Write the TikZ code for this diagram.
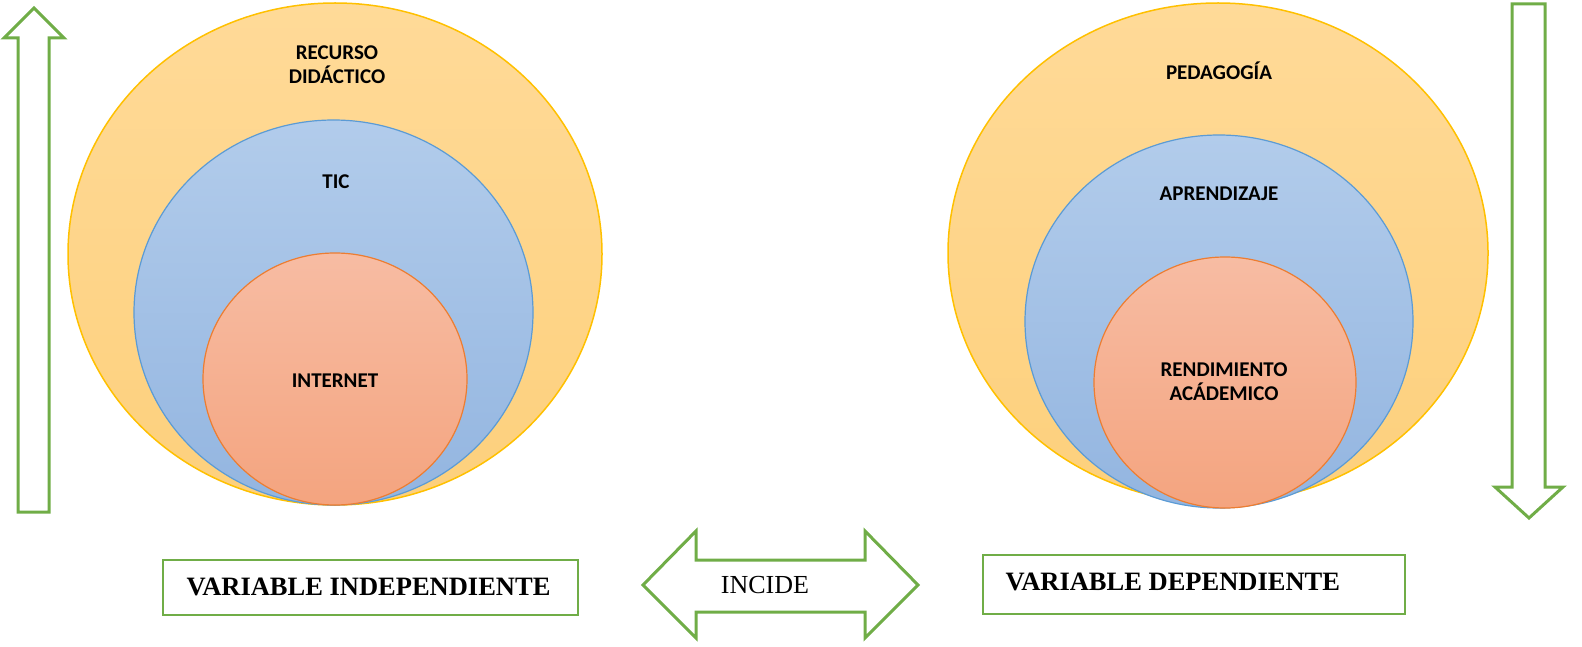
\documentclass[tikz,border=0pt]{standalone}
\usepackage{fontspec}
\setmainfont{Liberation Serif}
\newfontfamily\calfont{Carlito}
\usepackage[]{tikz}
\usetikzlibrary{positioning}
\definecolor{goldline}{HTML}{FFC000}
\definecolor{goldtop}{HTML}{FFDA98}
\definecolor{goldbot}{HTML}{FDD07C}
\definecolor{blueline}{HTML}{5B9BD5}
\definecolor{bluetop}{HTML}{B2CCEB}
\definecolor{bluebot}{HTML}{93B5E0}
\definecolor{redline}{HTML}{ED7D31}
\definecolor{redtop}{HTML}{F7BCA3}
\definecolor{redbot}{HTML}{F4A47F}
\definecolor{arrowgreen}{HTML}{70AD47}
\tikzset{outerring/.style = {draw=goldline, line width=1.5, top color=goldtop, bottom color=goldbot},
         midring/.style = {draw=blueline, line width=1.2, top color=bluetop, bottom color=bluebot},
         innerring/.style = {draw=redline, line width=1.2, top color=redtop, bottom color=redbot},
         ringlabel/.style = {font=\calfont\bfseries\fontsize{21}{24}\selectfont, align=center, inner sep=0},
         greenarrow/.style = {draw=arrowgreen, line width=3, line join=miter, fill=white},
         varbox/.style = {draw=arrowgreen, line width=2.5, fill=white}}

\begin{document}
\begin{tikzpicture}[x=1pt, y=-1pt]
            \useasboundingbox (0,0) rectangle (1582,647);
            % left side
            \draw [outerring] (335,254) ellipse (267pt and 251pt);
            \draw [midring] (333.5,312.5) ellipse (199.5pt and 192.5pt);
            \draw [innerring] (335,379) ellipse (132pt and 126pt);
            \node [ringlabel] (recurso) at (337,65) {RECURSO\\DIDÁCTICO};
            \node [ringlabel] (tic) at (336,182) {TIC};
            \node [ringlabel] (internet) at (335,381) {INTERNET};
            % right side
            \draw [outerring] (1218,253) ellipse (270pt and 250pt);
            \draw [midring] (1219,321.5) ellipse (194pt and 186.5pt);
            \draw [innerring] (1225,382.5) ellipse (131pt and 125.5pt);
            \node [ringlabel] (pedagogia) at (1219,71) {PEDAGOGÍA};
            \node [ringlabel] (aprendizaje) at (1219,194) {APRENDIZAJE};
            \node [ringlabel] (rendimiento) at (1224,382) {RENDIMIENTO\\ACÁDEMICO};
            % arrows
            \draw [greenarrow] (18,512)--(18,38)--(4,38)--(34,8)--(64,38)--(49,38)--(49,512)--cycle;
            \draw [greenarrow] (1512,4)--(1512,487)--(1495,487)--(1529,518)--(1563,487)--(1545,487)--(1545,4)--cycle;
            \draw [greenarrow] (643,585)--(696,531)--(696,560)--(865,560)--(865,531)--(918,585)
                               --(865,638)--(865,612)--(696,612)--(696,638)--cycle;
            \node [font=\fontsize{26}{26}\selectfont] (incide) at (765,585) {INCIDE};
            % variables
            \draw [varbox] (163,560) rectangle (578,615);
            \node [font=\bfseries\fontsize{26.5}{27}\selectfont, anchor=west] (indep) at (183,587) {VARIABLE INDEPENDIENTE};
            \draw [varbox] (983,555) rectangle (1405,614);
            \node [font=\bfseries\fontsize{26.5}{27}\selectfont, anchor=west] (dep) at (1002,582) {VARIABLE DEPENDIENTE};
        \end{tikzpicture}
\end{document}
